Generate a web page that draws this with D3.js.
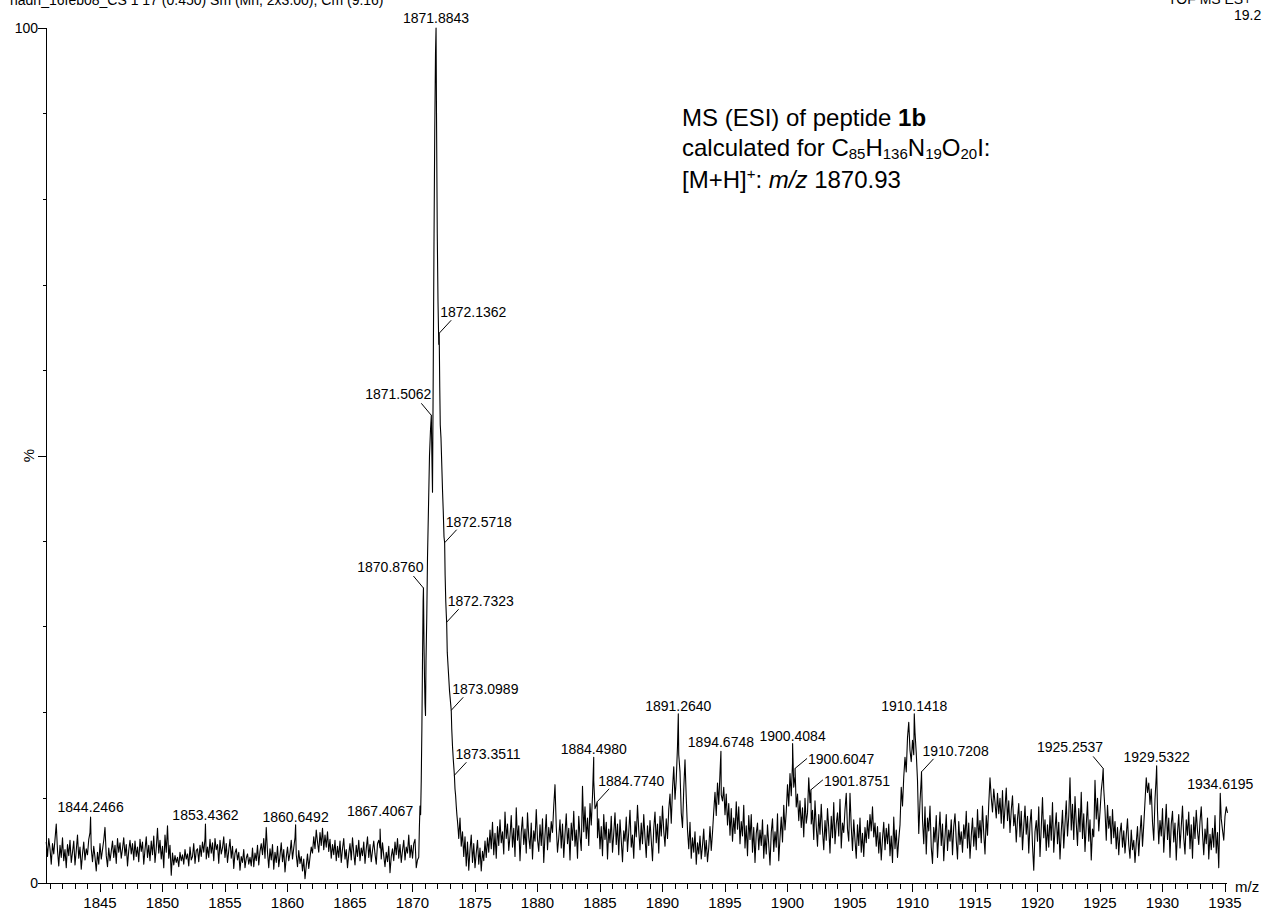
<!DOCTYPE html>
<html>
<head>
<meta charset="utf-8">
<script src="https://cdn.jsdelivr.net/npm/d3@7"></script>
<style>
  html, body { margin: 0; padding: 0; background: #fff; }
  svg { display: block; font-family: "Liberation Sans", Arial, Helvetica, sans-serif; }
</style>
</head>
<body>
<svg id="chart" width="1262" height="913"></svg>
<script>
// ---- axis extent and tick values ----
const mzExtent = [1840.68, 1935.16];
const mzMajorTicks = [1845, 1850, 1855, 1860, 1865, 1870, 1875, 1880, 1885, 1890, 1895, 1900, 1905, 1910, 1915, 1920, 1925, 1930, 1935];
const intensityTicks = [0, 10, 20, 30, 40, 50, 60, 70, 80, 90, 100];
const intensityLabels = [0, 100];

// ---- continuum trace, sampled every 0.1 m/z ----
const lowStart = 1840.7;
const highStart = 1873.7;
const sampleStep = 0.1;

// 1840.7 .. 1870.4
const lowNoise = [
  4.8, 3.1, 5.2,
  4.0, 2.2, 4.6, 3.4, 5.1, 6.9, 3.8, 2.0, 4.4, 3.0,
  5.3, 2.6, 3.9, 1.8, 4.5, 3.2, 5.0, 2.4, 3.6, 4.9,
  2.1, 3.8, 5.6, 2.9, 4.2, 1.6, 3.4, 4.8, 2.7, 4.0,
  3.3, 5.1, 5.9, 4.0, 2.5, 4.3, 3.0, 1.4, 3.6, 2.2,
  4.6, 2.8, 3.9, 5.0, 6.5, 3.2, 1.9, 4.1, 2.6, 3.7,
  4.9, 3.0, 4.4, 2.3, 5.2, 3.6, 4.7, 2.9, 4.0, 5.3,
  3.2, 4.5, 2.0, 3.8, 5.0, 3.4, 4.6, 2.7, 4.9, 3.1,
  4.2, 2.5, 5.1, 3.7, 4.8, 2.2, 3.9, 5.4, 3.0, 4.4,
  2.6, 4.9, 3.3, 5.5, 2.4, 4.1, 6.4, 3.5, 5.0, 2.8,
  4.3, 1.8, 5.6, 3.6, 6.7, 2.9, 4.4, 0.9, 3.5, 2.1,
  3.2, 2.4, 3.0, 1.9, 3.6, 2.6, 3.3, 2.2, 3.9, 2.8,
  3.4, 2.0, 4.2, 2.7, 3.1, 4.6, 2.3, 3.8, 4.0, 2.5,
  4.4, 3.1, 4.8, 3.6, 5.2, 2.8, 4.2, 3.0, 5.1, 3.5,
  4.7, 2.6, 5.2, 3.9, 4.5, 2.3, 5.0, 3.4, 4.1, 5.4,
  3.0, 4.6, 2.4, 3.8, 5.1, 2.9, 4.3, 1.7, 3.5, 4.0,
  2.7, 3.6, 1.5, 3.1, 2.4, 3.9, 1.8, 2.9, 3.4, 2.2,
  3.0, 2.0, 4.1, 1.9, 3.5, 2.6, 4.4, 2.1, 3.7, 4.6,
  3.3, 5.2, 2.9, 6.5, 3.6, 1.8, 4.0, 2.7, 4.5, 1.6,
  3.6, 2.4, 4.3, 1.9, 3.2, 4.7, 2.5, 3.9, 1.3, 3.0,
  4.2, 2.6, 3.5, 5.0, 2.8, 4.1, 5.3, 3.3, 1.9, 3.8,
  2.3, 3.1, 1.4, 2.8, 0.5, 2.0, 3.4, 1.7, 3.0, 4.2,
  3.5, 5.4, 4.0, 6.2, 4.8, 3.6, 5.9, 4.4, 6.4, 3.9,
  5.6, 4.2, 6.0, 3.7, 5.1, 2.9, 4.5, 3.3, 5.0, 2.6,
  4.3, 3.0, 4.9, 2.4, 4.0, 5.2, 2.8, 3.9, 1.8, 3.4,
  4.6, 2.7, 5.3, 3.5, 2.1, 4.4, 3.1, 5.0, 2.6, 4.1,
  3.2, 4.8, 2.3, 4.0, 5.4, 3.0, 4.5, 2.5, 3.8, 4.9,
  3.4, 2.2, 4.6, 5.0, 4.1, 2.8, 4.7, 3.2, 1.9, 3.6,
  2.5, 4.3, 1.2, 3.1, 4.0, 2.6, 4.8, 3.3, 5.2, 2.9,
  4.5, 2.4, 3.8, 5.0, 2.7, 4.2, 3.5, 5.6, 3.0, 4.4,
  2.9, 4.6, 5.1, 1.8, 2.7
];

// isotope cluster profile between the noise runs: [m/z, %]
const isotopeProfile = [
  [1870.50, 3.0], [1870.55, 6.5], [1870.60, 9.0], [1870.65, 8.0], [1870.70, 12.0],
  [1870.75, 18.0], [1870.80, 26.0], [1870.85, 33.0],
  [1870.92, 28.0], [1870.96, 24.0], [1871.00, 21.0], [1871.04, 19.6], [1871.08, 26.0],
  [1871.14, 31.0], [1871.20, 38.0], [1871.28, 44.0], [1871.36, 50.0], [1871.44, 53.0],
  [1871.55, 50.0], [1871.60, 45.7], [1871.66, 60.0], [1871.72, 75.0], [1871.78, 88.0], [1871.84, 97.0],
  [1871.92, 90.0], [1871.98, 76.0], [1872.04, 68.0], [1872.10, 63.0],
  [1872.18, 58.0], [1872.22, 53.6], [1872.28, 52.0], [1872.34, 49.0], [1872.40, 46.0],
  [1872.46, 43.5], [1872.52, 40.5],
  [1872.61, 36.0], [1872.66, 33.0], [1872.70, 31.5],
  [1872.78, 27.0], [1872.84, 25.5], [1872.90, 24.0], [1872.96, 22.5], [1873.02, 21.5],
  [1873.14, 18.0], [1873.20, 16.0], [1873.26, 14.5],
  [1873.40, 11.0], [1873.45, 10.2], [1873.50, 9.0], [1873.55, 8.0], [1873.60, 7.2], [1873.65, 6.3]
];

// 1873.7 .. 1935.2
const highNoise = [
  5.2, 7.6, 4.3,
  6.0, 3.1, 5.4, 2.0, 4.8, 1.5, 3.9, 5.6, 2.4, 4.6,
  1.8, 3.5, 5.0, 2.2, 4.1, 1.4, 3.7, 2.6, 4.9, 3.0,
  5.3, 3.6, 6.2, 4.0, 7.1, 3.3, 5.8, 2.9, 6.6, 4.4,
  7.4, 4.7, 6.0, 3.4, 8.3, 5.2, 6.9, 3.8, 5.5, 7.9,
  4.2, 6.4, 3.1, 8.8, 5.0, 6.7, 2.6, 5.9, 7.7, 4.5,
  6.3, 3.5, 8.2, 5.4, 4.0, 7.0, 2.8, 6.1, 4.9, 8.6,
  5.1, 3.7, 6.8, 4.4, 7.5, 2.4, 5.6, 8.0, 3.9, 6.5,
  4.8, 7.2, 5.9, 9.0, 11.5, 6.6, 3.6, 5.3, 7.4, 4.1,
  6.9, 3.0, 5.7, 8.1, 4.6, 6.4, 2.7, 7.0, 5.0, 8.4,
  4.3, 6.2, 2.9, 7.8, 5.5, 3.8, 11.3, 6.0, 8.9, 5.2,
  7.6, 4.4, 9.3, 6.8, 10.2, 12.0, 8.7, 9.1, 5.3, 7.5,
  4.0, 6.6, 3.2, 8.0, 5.1, 7.1, 2.8, 6.3, 4.7, 7.8,
  3.6, 5.8, 8.2, 4.5, 6.9, 3.3, 7.4, 5.0, 2.5, 6.1,
  4.9, 7.7, 3.7, 6.0, 8.5, 4.2, 5.6, 2.9, 7.2, 5.4,
  9.1, 6.2, 3.9, 7.0, 4.6, 8.0, 5.3, 3.0, 6.7, 4.4,
  7.3, 5.0, 2.6, 6.4, 8.3, 4.7, 6.9, 3.5, 7.8, 5.5,
  9.0, 6.1, 4.3, 7.5, 5.2, 8.6, 10.4, 7.0, 11.0, 13.6,
  9.8, 12.1, 16.0, 15.0, 13.0, 8.2, 6.5, 11.0, 14.4, 10.0,
  6.2, 4.0, 7.1, 2.9, 5.3, 3.6, 6.0, 2.2, 4.7, 3.4,
  5.5, 2.8, 4.4, 6.3, 3.1, 5.0, 2.5, 4.1, 6.6, 3.8,
  5.9, 8.4, 10.6, 7.9, 11.7, 9.2, 12.9, 10.3, 9.6, 11.2,
  8.0, 10.4, 6.8, 9.3, 5.6, 8.7, 4.9, 7.6, 5.8, 9.5,
  6.3, 8.9, 4.6, 7.2, 5.5, 9.1, 4.1, 6.7, 3.2, 7.9,
  5.1, 8.0, 3.6, 6.5, 2.4, 5.8, 7.0, 3.9, 6.2, 4.4,
  7.4, 2.9, 5.6, 3.4, 6.8, 4.5, 2.1, 5.9, 7.5, 3.7,
  6.0, 4.2, 8.1, 2.6, 5.3, 7.7, 4.8, 9.1, 6.2, 8.3,
  11.5, 9.0, 12.8, 10.2, 14.0, 11.2, 12.5, 8.9, 10.4, 7.3,
  9.6, 6.5, 8.8, 5.4, 9.9, 7.0, 8.2, 12.3, 9.4, 6.9,
  8.5, 5.1, 9.6, 6.6, 4.3, 8.0, 5.7, 9.2, 6.1, 3.9,
  7.3, 5.0, 8.7, 6.4, 3.5, 7.8, 5.3, 9.4, 4.6, 6.9,
  8.2, 5.5, 9.8, 4.1, 7.0, 5.9, 8.6, 10.5, 6.3, 4.9,
  10.5, 6.6, 3.8, 7.4, 5.0, 2.9, 6.8, 4.4, 7.6, 3.6,
  5.8, 3.1, 6.5, 4.7, 7.3, 5.2, 8.0, 6.1, 8.9, 5.4,
  7.0, 4.3, 6.6, 3.5, 5.9, 2.7, 5.2, 7.1, 3.9, 6.4,
  4.6, 6.9, 3.2, 5.5, 2.4, 7.7, 4.0, 6.2, 3.0, 5.1,
  6.8, 11.2, 9.0, 12.4, 14.7, 13.0, 17.0, 18.8, 15.5, 14.2,
  16.7, 15.0, 17.6, 15.2, 12.0, 5.8, 9.5, 12.2, 7.4, 4.6,
  8.9, 3.4, 7.6, 6.1, 9.0, 4.2, 2.3, 6.5, 4.8, 7.9,
  3.0, 5.7, 8.3, 4.4, 6.9, 2.6, 5.4, 8.0, 3.8, 6.2,
  4.9, 7.4, 3.3, 6.6, 8.1, 5.0, 2.8, 7.2, 4.5, 6.0,
  3.6, 6.8, 5.2, 8.4, 4.1, 7.0, 2.9, 5.5, 7.6, 4.3,
  6.5, 3.9, 8.6, 5.3, 7.3, 4.7, 9.0, 5.8, 3.4, 7.9,
  5.6, 9.2, 12.3, 10.0, 8.3, 11.0, 9.4, 7.6, 10.5, 8.1,
  9.9, 7.0, 10.8, 6.4, 8.8, 11.1, 7.3, 9.6, 5.9, 8.5,
  10.2, 6.7, 8.0, 4.8, 7.5, 9.3, 5.4, 8.4, 3.9, 6.6,
  9.0, 5.7, 7.8, 3.5, 6.9, 8.6, 4.4, 1.5, 6.0, 7.3,
  4.9, 8.9, 3.1, 6.5, 10.0, 5.3, 7.4, 3.8, 6.8, 4.2,
  7.9, 5.0, 9.4, 3.6, 6.3, 8.2, 4.6, 7.1, 2.8, 6.0,
  8.5, 4.1, 6.9, 9.6, 5.5, 7.8, 12.3, 6.2, 9.2, 5.1,
  10.1, 7.0, 4.4, 8.7, 6.0, 10.6, 5.2, 8.1, 3.7, 6.8,
  9.5, 4.9, 7.4, 2.7, 6.3, 5.4, 12.0, 7.5, 9.9, 6.1,
  8.3, 10.8, 12.2, 11.0, 8.5, 5.0, 9.1, 6.4, 7.8, 4.6,
  8.6, 5.3, 7.2, 4.0, 6.5, 3.3, 5.9, 7.0, 4.2, 6.1,
  3.5, 5.6, 7.5, 4.5, 2.9, 6.2, 3.9, 5.0, 2.4, 4.7,
  6.6, 3.2, 5.8, 7.9, 4.3, 6.8, 9.5, 12.3, 10.6, 11.7,
  9.2, 11.0, 7.1, 5.0, 9.8, 12.5, 8.4, 4.6, 7.3, 5.5,
  8.7, 3.6, 6.4, 9.2, 5.1, 7.6, 3.0, 6.9, 8.4, 4.8,
  7.0, 2.7, 5.9, 8.0, 4.1, 6.6, 9.0, 5.3, 3.4, 7.4,
  5.6, 8.3, 4.0, 6.8, 2.9, 7.7, 5.2, 8.5, 6.1, 4.5,
  7.2, 8.9, 5.8, 3.3, 6.3, 4.6, 7.6, 2.8, 5.7, 3.9,
  6.4, 4.2, 7.9, 3.5, 5.9, 1.8, 8.7, 7.5, 6.2, 5.0,
  7.8, 8.9, 8.2
];

// ---- labelled centroids ----
const peakMz = [
  1844.2466, 1853.4362, 1860.6492, 1867.4067,
  1870.8760, 1871.5062, 1871.8843, 1872.1362, 1872.5718, 1872.7323, 1873.0989, 1873.3511,
  1884.4980, 1884.7740, 1891.2640, 1894.6748, 1900.4084, 1900.6047, 1901.8751,
  1910.1418, 1910.7208, 1925.2537, 1929.5322, 1934.6195
];
const peakIntensity = [
  7.7, 6.9, 6.8, 6.3,
  34.5, 54.7, 100, 64.3, 39.8, 30.5, 20.2, 12.6,
  14.7, 9.5, 19.8, 15.4, 16.3, 13.4, 10.9,
  19.8, 13.0, 13.4, 13.7, 10.5
];

// ---- text ----
const headerLeft = "hadh_16feb08_CS 1 17 (0.450) Sm (Mn, 2x3.00); Cm (9:16)";
const headerRight = "TOF MS ES+";
const headerScale = "19.2";

// label placement per centroid (same order as peakMz)
const labelPlacement = [
  { kind: "above", dy: -5 }, { kind: "above", dy: -4 }, { kind: "above", dy: -3 }, { kind: "above", dy: -13 },
  { kind: "left" }, { kind: "left" }, { kind: "above", dy: -5 }, { kind: "right" }, { kind: "right" },
  { kind: "right" }, { kind: "right" }, { kind: "right" },
  { kind: "above", dy: -3 }, { kind: "right" }, { kind: "above", dy: -3 }, { kind: "above", dy: -4 },
  { kind: "above", dy: -3 }, { kind: "side" }, { kind: "side" },
  { kind: "above", dy: -3 }, { kind: "right" }, { kind: "left" }, { kind: "above", dy: -4 }, { kind: "above", dy: -4 }
];

// ---- build trace ----
const round2 = v => Math.round(v * 100) / 100;
const trace = [];
lowNoise.forEach((v, i) => trace.push([round2(lowStart + i * sampleStep), v]));
isotopeProfile.forEach(p => trace.push(p));
highNoise.forEach((v, i) => trace.push([round2(highStart + i * sampleStep), v]));
peakMz.forEach((m, i) => trace.push([m, peakIntensity[i]]));
trace.sort((a, b) => a[0] - b[0]);

// ---- scales ----
const svg = d3.select("#chart");
const x = d3.scaleLinear().domain(mzExtent).range([46, 1227]);
const y = d3.scaleLinear().domain([0, 100]).range([883, 28]);

const ink = "#000";

// spectrum line
svg.append("path")
  .datum(trace)
  .attr("fill", "none")
  .attr("stroke", ink)
  .attr("stroke-width", 1.1)
  .attr("stroke-linejoin", "round")
  .attr("d", d3.line().x(d => x(d[0])).y(d => y(d[1])));

// ---- axes ----
const axisG = svg.append("g").attr("stroke", ink).attr("stroke-width", 1).attr("shape-rendering", "crispEdges");
axisG.append("line").attr("x1", 46.5).attr("x2", 46.5).attr("y1", y(100)).attr("y2", y(0));
axisG.append("line").attr("x1", 46).attr("x2", 1227).attr("y1", 883.5).attr("y2", 883.5);

// y ticks
intensityTicks.forEach(t => {
  const major = t % 50 === 0;
  axisG.append("line")
    .attr("x1", major ? 38 : 43).attr("x2", 46)
    .attr("y1", Math.round(y(t)) + 0.5).attr("y2", Math.round(y(t)) + 0.5);
});

// x ticks: minor every unit, major every five
const minorMz = d3.range(Math.ceil(mzExtent[0]), Math.floor(mzExtent[1]) + 1);
minorMz.forEach(m => {
  const major = mzMajorTicks.includes(m);
  axisG.append("line")
    .attr("x1", Math.round(x(m)) + 0.5).attr("x2", Math.round(x(m)) + 0.5)
    .attr("y1", 884).attr("y2", major ? 892 : 889);
});

const txt = svg.append("g").attr("fill", ink);

mzMajorTicks.forEach(m => {
  txt.append("text").attr("x", x(m)).attr("y", 908)
    .attr("text-anchor", "middle").attr("font-size", 15).text(m);
});
intensityLabels.forEach(t => {
  txt.append("text").attr("x", 38).attr("y", y(t) + 5)
    .attr("text-anchor", "end").attr("font-size", 14).text(t);
});
txt.append("text").attr("x", 1235).attr("y", 892).attr("font-size", 15).text("m/z");
txt.append("text")
  .attr("transform", `translate(34,${y(50)}) rotate(-90)`)
  .attr("text-anchor", "middle").attr("font-size", 15).text("%");

// header lines (run partly off the top edge)
txt.append("text").attr("x", 10).attr("y", 5).attr("font-size", 14).text(headerLeft);
txt.append("text").attr("x", 1168).attr("y", 4).attr("font-size", 14).text(headerRight);
txt.append("text").attr("x", 1234).attr("y", 20).attr("font-size", 14).text(headerScale);

// ---- peak labels ----
const lbl = svg.append("g");
peakMz.forEach((m, i) => {
  const px = x(m), py = y(peakIntensity[i]);
  const p = labelPlacement[i];
  const label = m.toFixed(4);
  let tx, ty, anchor, leader = null;
  if (p.kind === "above") {
    tx = px; ty = py + p.dy; anchor = "middle";
  } else if (p.kind === "right") {
    tx = px + 1; ty = py - 16; anchor = "start"; leader = [px + 12, py - 13];
  } else if (p.kind === "left") {
    tx = px; ty = py - 16; anchor = "end"; leader = [px - 10, py - 12];
  } else {
    tx = px + 13; ty = py - 4; anchor = "start"; leader = [px + 12, py - 10];
  }
  if (leader) {
    lbl.append("line").attr("x1", px).attr("y1", py)
      .attr("x2", leader[0]).attr("y2", leader[1])
      .attr("stroke", ink).attr("stroke-width", 1);
  }
  lbl.append("text").attr("x", tx).attr("y", ty)
    .attr("text-anchor", anchor).attr("font-size", 14).attr("fill", ink).text(label);
});

// ---- annotation ----
const noteX = 682;
const note = svg.append("g").attr("fill", ink).attr("font-size", 24);
const l1 = note.append("text").attr("x", noteX).attr("y", 126);
l1.append("tspan").text("MS (ESI) of peptide ");
l1.append("tspan").attr("font-weight", "bold").text("1b");

const l2 = note.append("text").attr("x", noteX).attr("y", 156);
const formula = [["calculated for C", false], ["85", true], ["H", false], ["136", true],
                 ["N", false], ["19", true], ["O", false], ["20", true], ["I:", false]];
formula.forEach(([s, sub]) => {
  l2.append("tspan").attr("font-size", sub ? 15 : 24).attr("dy", sub ? 3 : 0)
    .text(s);
});
// restore baseline after each subscript
l2.selectAll("tspan").each(function (d, i) {
  if (i > 0 && formula[i - 1][1] && !formula[i][1]) d3.select(this).attr("dy", -3);
});

const l3 = note.append("text").attr("x", noteX).attr("y", 188);
l3.append("tspan").text("[M+H]");
l3.append("tspan").attr("font-size", 15).attr("dy", -9).text("+");
l3.append("tspan").attr("dy", 9).text(": ");
l3.append("tspan").attr("font-style", "italic").text("m/z");
l3.append("tspan").text(" 1870.93");
</script>
</body>
</html>
